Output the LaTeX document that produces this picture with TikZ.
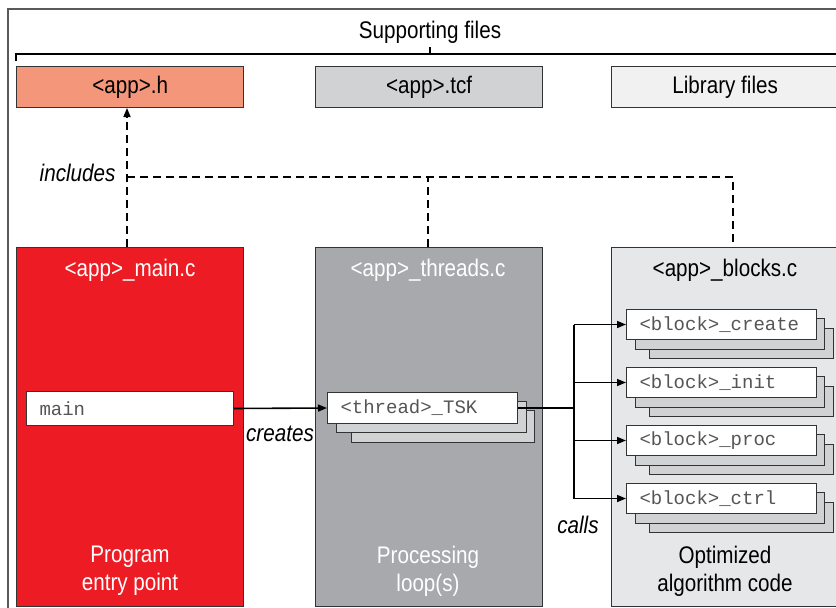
\documentclass[tikz,border=0pt]{standalone}
\usepackage{fontspec}
\setmainfont{Liberation Sans}[FakeStretch=0.86]
\setmonofont{Liberation Mono}
\usetikzlibrary{positioning,arrows.meta}
\definecolor{hfile}{HTML}{F4967A}
\definecolor{tcffile}{HTML}{D1D2D4}
\definecolor{libfile}{HTML}{F1F1F2}
\definecolor{mainred}{HTML}{ED1C24}
\definecolor{thrgray}{HTML}{A7A9AC}
\definecolor{blkgray}{HTML}{E6E7E8}
\definecolor{stackgray}{HTML}{D1D2D4}
\definecolor{edge}{HTML}{333333}
\definecolor{codetext}{HTML}{555555}

\begin{document}
\begin{tikzpicture}[x=1pt, y=-1pt,
    filebox/.style = {draw=edge, line width=1.3pt, minimum width=227pt, minimum height=41pt,
                      anchor=north west, inner sep=0pt, font=\fontsize{24}{27}\selectfont},
    srcbox/.style = {draw=edge, line width=1.3pt, minimum width=227pt, minimum height=359pt,
                     anchor=north west, inner sep=0pt},
    codebox/.style = {draw=edge, line width=1pt, fill=white, minimum width=190pt, minimum height=30pt,
                      anchor=north west, inner xsep=13pt, inner ysep=0pt, text width=164pt,
                      align=left, text=codetext, font=\ttfamily\fontsize{19}{22}\selectfont},
    backbox/.style = {draw=edge, line width=1pt, fill=stackgray},
    title/.style = {font=\fontsize{24}{27}\selectfont},
    caption/.style = {font=\fontsize{24}{28}\selectfont, align=center},
    verb/.style = {font=\itshape\fontsize{24}{27}\selectfont},
    incl/.style = {line width=1.6pt, dash pattern=on 8pt off 5pt},
    flow/.style = {line width=1.6pt}]
  \useasboundingbox (0,0) rectangle (836,608);
  % outer frame
  \draw [line width=1.5pt, draw=black!65] (8,9) rectangle (850,630);
  % supporting files bracket
  \node (sup) at (430,32) [title] {Supporting files};
  \draw [line width=1.2pt] (16,61) -- (16,54) -- (850,54);
  \draw [line width=1.2pt] (430,47) -- (430,54);
  % header files
  \node (h) [filebox, fill=hfile] at (16,66) {<app>.h};
  \node (tcf) [filebox, fill=tcffile] at (315,66) {<app>.tcf};
  \node (lib) [filebox, fill=libfile] at (611,66) {Library files};
  % source files
  \node (main) [srcbox, fill=mainred] at (16,247) {};
  \node (thr) [srcbox, fill=thrgray] at (315,247) {};
  \node (blk) [srcbox, fill=blkgray] at (611,247) {};
  \node [title, text=white] at (130,270) {<app>\_main.c};
  \node [title, text=white] at (428,270) {<app>\_threads.c};
  \node [title] at (725,270) {<app>\_blocks.c};
  \node [caption, text=white] at (130,571) {Program\\entry point};
  \node [caption, text=white] at (428,571) {Processing\\loop(s)};
  \node [caption] at (725,571) {Optimized\\algorithm code};
  % includes
  \coordinate (inc) at (127,177);
  \draw [incl, -{Triangle[length=9pt, width=7pt]}] (127,247) -- (127,108);
  \draw [incl] (inc) -- (733,177) -- (733,247);
  \draw [incl] (428,247) -- (428,177);
  \node [verb, anchor=east] at (119,173) {includes};
  % main
  \node (m) [codebox, minimum width=207pt, text width=181pt, minimum height=34pt] at (26,391) {main};
  % thread task
  \draw [backbox] (351,410) rectangle (534,442);
  \draw [backbox] (336,401) rectangle (526,432);
  \node (t) [codebox, minimum height=31pt] at (327,392) {<thread>\_TSK};
  \draw [flow, -{Triangle[length=9pt, width=7pt]}] (m.east) -- (t.west);
  \node [verb] at (280,434) {creates};
  % algorithm blocks
  \foreach \y/\name [count=\i] in {309/create, 367/init, 425/proc, 483/ctrl}
  {\draw [backbox] (649,\y+19) rectangle (833,\y+49);
   \draw [backbox] (635,\y+9) rectangle (824,\y+40);
   \node (b\i) [codebox] at (626,\y) {<block>\_\name};}
  \coordinate (br) at (574,0);
  \draw [flow] (t.east) -- (br |- t.east);
  \draw [flow] (br |- b1.west) -- (br |- b4.west);
  \foreach \i in {1,...,4}
  \draw [flow, -{Triangle[length=9pt, width=7pt]}] (br |- b\i.west) -- (b\i.west);
  \node [verb] at (578,525) {calls};
\end{tikzpicture}
\end{document}
